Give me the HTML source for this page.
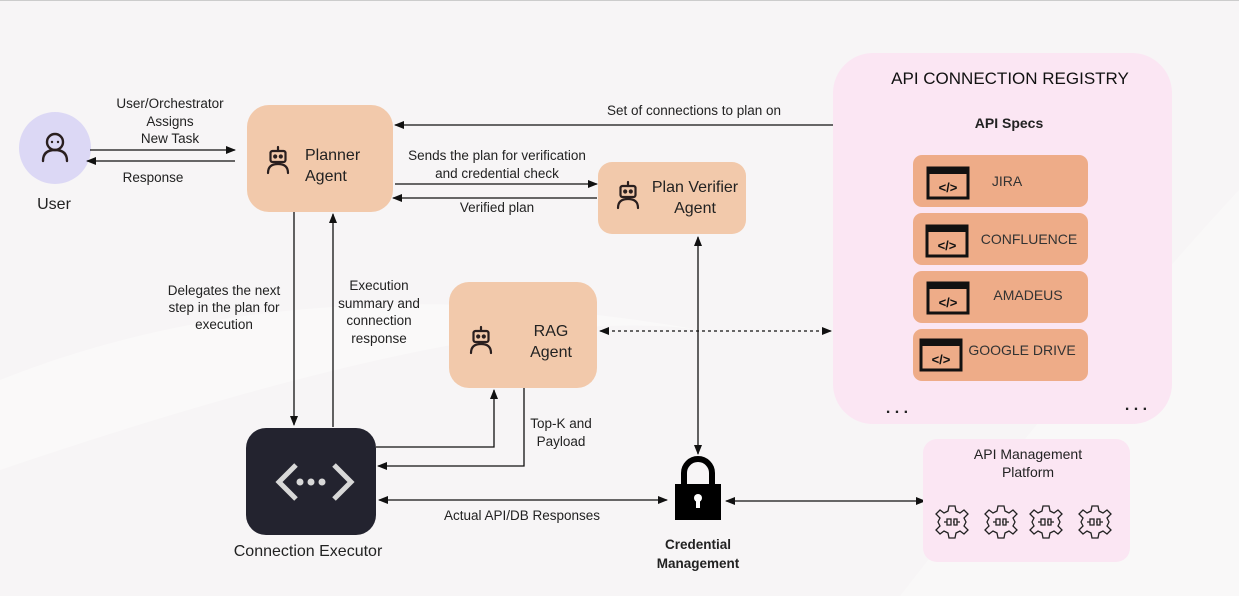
<!DOCTYPE html>
<html><head><meta charset="utf-8"><style>
html,body{margin:0;padding:0;background:#f7f5f6}
svg{display:block}
text{font-family:"Liberation Sans",sans-serif;fill:#222}
</style></head><body>
<svg width="1239" height="596" viewBox="0 0 1239 596" xmlns="http://www.w3.org/2000/svg">
<defs>
<marker id="ah" markerWidth="10" markerHeight="8" refX="9" refY="4" orient="auto" markerUnits="userSpaceOnUse">
<path d="M0,0 L10,4 L0,8 z" fill="#111"/></marker>
<marker id="as" markerWidth="10" markerHeight="8" refX="1" refY="4" orient="auto" markerUnits="userSpaceOnUse">
<path d="M10,0 L0,4 L10,8 z" fill="#111"/></marker>
<g id="bot" fill="none" stroke="#2a1f1f" stroke-width="2.2" stroke-linecap="round">
<line x1="0" y1="-13" x2="0" y2="-9"/>
<rect x="-7.5" y="-9" width="15" height="11" rx="2"/>
<circle cx="-2.8" cy="-3.5" r="1" fill="#2a1f1f"/><circle cx="2.8" cy="-3.5" r="1" fill="#2a1f1f"/>
<path d="M-10,13 Q-10,4 0,4 Q10,4 10,13"/>
</g>
<g id="code">
<rect x="0" y="0" width="40" height="30" fill="none" stroke="#111" stroke-width="3"/>
<rect x="0" y="0" width="40" height="6" fill="#111"/>
<text x="20" y="24" font-size="13" font-weight="bold" text-anchor="middle" style="fill:#111">&lt;/&gt;</text>
</g>
<g id="gear" fill="none" stroke="#222" stroke-width="1.3">
<path d="M-3,-16 L3,-16 L4,-11 L8,-9 L12,-12 L16,-8 L12,-4 L14,0 L12,4 L16,8 L12,12 L8,9 L4,11 L3,16 L-3,16 L-4,11 L-8,9 L-12,12 L-16,8 L-12,4 L-14,0 L-12,-4 L-16,-8 L-12,-12 L-8,-9 L-4,-11 Z"/>
<path d="M-8,0 H-5 M-5,-3 H-1 V3 H-5 Z M8,0 H5 M5,-3 H2 V3 H5 Z M1,0 H2"/>
</g>
</defs>
<rect width="1239" height="596" fill="#f7f5f6"/>
<path d="M0,380 Q300,260 700,330 Q500,300 0,470 Z" fill="#faf9f9"/>
<path d="M1239,190 Q1100,340 900,596 L1239,596 Z" fill="#f9f8f8"/>
<line x1="0" y1="0.5" x2="1239" y2="0.5" stroke="#ccc"/>

<!-- User -->
<circle cx="55" cy="148" r="36" fill="#dcd8f5"/>
<g fill="none" stroke="#2a1f1f" stroke-width="2.4" stroke-linecap="round">
<circle cx="55" cy="142" r="8"/>
<path d="M43,161 Q43,150 55,150 Q67,150 67,161"/></g>
<circle cx="52" cy="142" r="1.2" fill="#2a1f1f"/><circle cx="58" cy="142" r="1.2" fill="#2a1f1f"/>
<text x="54" y="209" font-size="16" text-anchor="middle">User</text>

<line x1="90" y1="150" x2="235" y2="150" stroke="#111" stroke-width="1.3" marker-end="url(#ah)"/>
<line x1="235" y1="161" x2="87" y2="161" stroke="#111" stroke-width="1.3" marker-end="url(#ah)"/>
<g font-size="13.5" text-anchor="middle">
<text x="170" y="108">User/Orchestrator</text><text x="170" y="126">Assigns</text><text x="170" y="143">New Task</text>
<text x="153" y="182">Response</text></g>

<!-- Planner -->
<rect x="247" y="105" width="146" height="107" rx="22" fill="#f2c9ab"/>
<use href="#bot" x="278" y="160"/>
<text x="305" y="160" font-size="16">Planner</text><text x="305" y="181" font-size="16">Agent</text>

<line x1="833" y1="125" x2="395" y2="125" stroke="#111" stroke-width="1.3" marker-end="url(#ah)"/>
<text x="694" y="115" font-size="13.5" text-anchor="middle">Set of connections to plan on</text>
<line x1="395" y1="184" x2="597" y2="184" stroke="#111" stroke-width="1.3" marker-end="url(#ah)"/>
<line x1="597" y1="198" x2="393" y2="198" stroke="#111" stroke-width="1.3" marker-end="url(#ah)"/>
<g font-size="13.5" text-anchor="middle">
<text x="497" y="160">Sends the plan for verification</text><text x="497" y="178">and credential check</text>
<text x="497" y="212">Verified plan</text></g>

<!-- Plan verifier -->
<rect x="598" y="162" width="148" height="72" rx="14" fill="#f2c9ab"/>
<use href="#bot" x="628" y="195"/>
<text x="695" y="192" font-size="16" text-anchor="middle">Plan Verifier</text>
<text x="695" y="213" font-size="16" text-anchor="middle">Agent</text>

<!-- verticals -->
<line x1="294" y1="212" x2="294" y2="425" stroke="#111" stroke-width="1.3" marker-end="url(#ah)"/>
<line x1="333" y1="427" x2="333" y2="214" stroke="#111" stroke-width="1.3" marker-end="url(#ah)"/>
<g font-size="13.5" text-anchor="middle">
<text x="224" y="295">Delegates the next</text><text x="224" y="312">step in the plan for</text><text x="224" y="329">execution</text>
<text x="379" y="290">Execution</text><text x="379" y="308">summary and</text><text x="379" y="325">connection</text><text x="379" y="343">response</text></g>

<!-- RAG -->
<rect x="449" y="282" width="148" height="106" rx="20" fill="#f2c9ab"/>
<use href="#bot" x="481" y="340"/>
<text x="551" y="336" font-size="16" text-anchor="middle">RAG</text>
<text x="551" y="357" font-size="16" text-anchor="middle">Agent</text>
<line x1="600" y1="331" x2="831" y2="331" stroke="#111" stroke-width="1.3" stroke-dasharray="3,3" marker-start="url(#as)" marker-end="url(#ah)"/>

<!-- Executor -->
<rect x="246" y="428" width="130" height="107" rx="20" fill="#23232f"/>
<g fill="none" stroke="#d8d8d8" stroke-width="5"><path d="M296,465 L279,482 L296,499"/><path d="M334,465 L351,482 L334,499"/></g>
<circle cx="300" cy="482" r="3.5" fill="#d8d8d8"/><circle cx="311" cy="482" r="3.5" fill="#d8d8d8"/><circle cx="322" cy="482" r="3.5" fill="#d8d8d8"/>
<text x="308" y="556" font-size="16" text-anchor="middle">Connection Executor</text>

<polyline points="376,447 494,447 494,390" fill="none" stroke="#111" stroke-width="1.3" marker-end="url(#ah)"/>
<polyline points="524,388 524,466 378,466" fill="none" stroke="#111" stroke-width="1.3" marker-end="url(#ah)"/>
<text x="561" y="428" font-size="13.5" text-anchor="middle">Top-K and</text>
<text x="561" y="446" font-size="13.5" text-anchor="middle">Payload</text>

<line x1="379" y1="500" x2="667" y2="500" stroke="#111" stroke-width="1.3" marker-start="url(#as)" marker-end="url(#ah)"/>
<text x="522" y="520" font-size="13.5" text-anchor="middle">Actual API/DB Responses</text>

<!-- Lock -->
<line x1="698" y1="237" x2="698" y2="454" stroke="#111" stroke-width="1.3" marker-start="url(#as)" marker-end="url(#ah)"/>
<path d="M684,485 V473 A14,14 0 0 1 712,473 V485" fill="none" stroke="#000" stroke-width="6"/>
<rect x="675" y="484" width="46" height="36" fill="#000"/>
<circle cx="698" cy="498" r="4" fill="#fff"/><rect x="696" y="500" width="4" height="8" fill="#fff"/>
<text x="698" y="549" font-size="13.5" font-weight="bold" text-anchor="middle">Credential</text>
<text x="698" y="568" font-size="13.5" font-weight="bold" text-anchor="middle">Management</text>
<line x1="726" y1="501" x2="925" y2="501" stroke="#111" stroke-width="1.3" marker-start="url(#as)" marker-end="url(#ah)"/>

<!-- API Management -->
<rect x="923" y="439" width="207" height="123" rx="14" fill="#fbe6f3"/>
<text x="1028" y="459" font-size="14" text-anchor="middle">API Management</text>
<text x="1028" y="477" font-size="14" text-anchor="middle">Platform</text>
<use href="#gear" x="952" y="522"/><use href="#gear" x="1001" y="522"/><use href="#gear" x="1046" y="522"/><use href="#gear" x="1095" y="522"/>

<!-- Registry -->
<rect x="833" y="53" width="339" height="371" rx="40" fill="#fbe6f3"/>
<text x="1010" y="84" font-size="17" text-anchor="middle" style="fill:#111">API CONNECTION REGISTRY</text>
<text x="1009" y="128" font-size="14" font-weight="bold" text-anchor="middle">API Specs</text>
<g fill="#eeac88">
<rect x="913" y="155" width="175" height="52" rx="9"/>
<rect x="913" y="213" width="175" height="52" rx="9"/>
<rect x="913" y="271" width="175" height="52" rx="9"/>
<rect x="913" y="329" width="175" height="52" rx="9"/></g>
<use href="#code" x="928" y="168"/><use href="#code" x="927" y="226"/><use href="#code" x="928" y="283"/><use href="#code" x="921" y="340"/>
<g font-size="14" text-anchor="middle" style="fill:#333">
<text x="1007" y="186" style="fill:#333">JIRA</text>
<text x="1029" y="244" style="fill:#333">CONFLUENCE</text>
<text x="1028" y="300" style="fill:#333">AMADEUS</text>
<text x="1022" y="355" style="fill:#333">GOOGLE DRIVE</text></g>
<text x="897" y="413" font-size="16" font-weight="bold" text-anchor="middle">. . .</text>
<text x="1136" y="410" font-size="16" font-weight="bold" text-anchor="middle">. . .</text>
</svg>
</body></html>
